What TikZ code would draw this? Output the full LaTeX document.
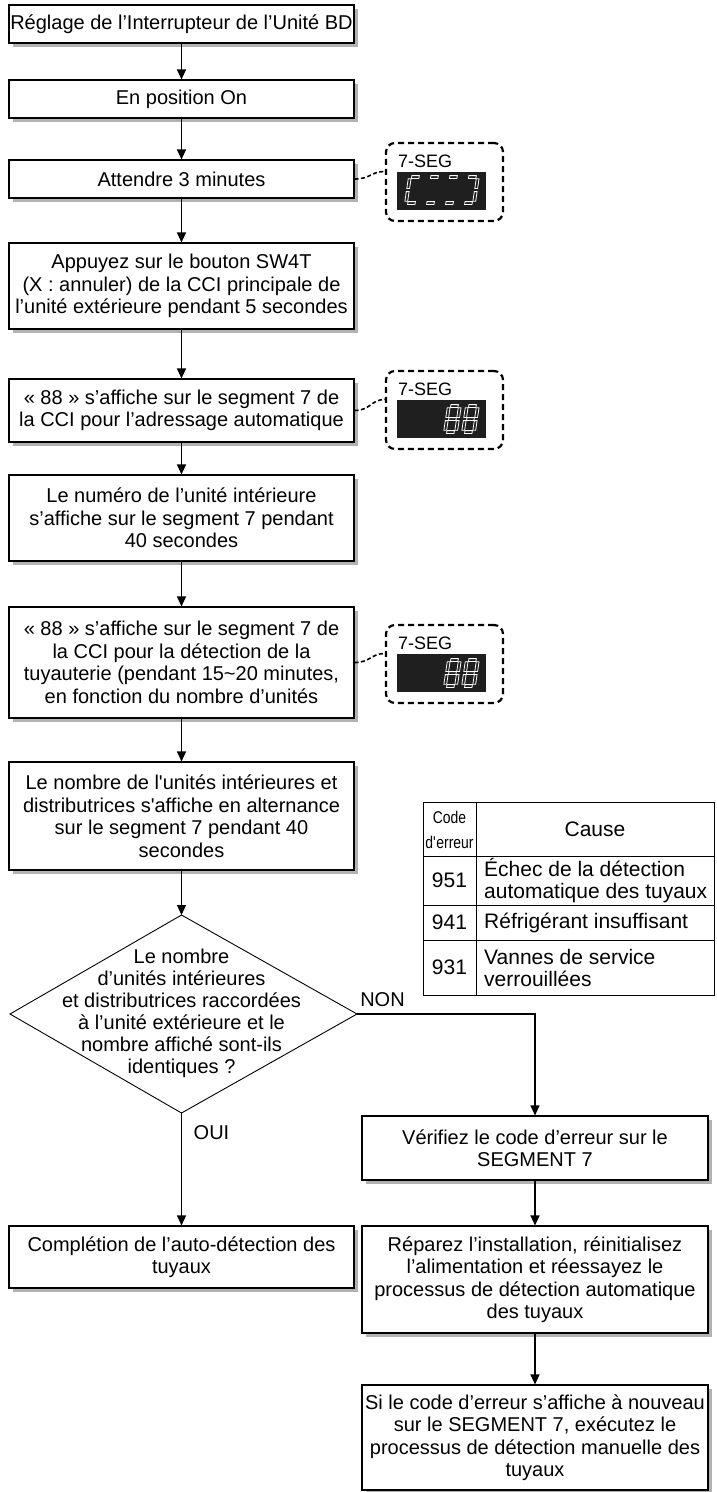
\documentclass[tikz,border=0pt]{standalone}
\usepackage{fontspec}
\setmainfont{Liberation Sans}
\newfontfamily\narrowfont[FakeStretch=0.82]{Liberation Sans}
\usetikzlibrary{arrows.meta,shadows}

\tikzset{
  box/.style={draw, line width=1.1pt, fill=white, minimum width=345pt, inner sep=0pt,
    align=center, font=\fontsize{20}{22.5}\selectfont,
    drop shadow={shadow xshift=3.5pt, shadow yshift=-3.5pt, fill=black!30, opacity=1}},
  arr/.style={-{Triangle[length=10pt,width=9pt]}, line width=1.1pt},
  segbox/.style={draw, line width=2.2pt, dash pattern=on 6pt off 4pt, rounded corners=9pt,
    minimum width=117pt, minimum height=78pt, inner sep=0pt},
  segwire/.style={line width=1.6pt, dash pattern=on 4pt off 2.5pt},
  segscreen/.style={fill=black!88, minimum width=89pt, minimum height=38pt, inner sep=0pt},
  seglabel/.style={anchor=base west, inner sep=0pt, font=\fontsize{18}{18}\selectfont},
  segline/.style={draw=white, line width=0.8pt},
  tabtxt/.style={inner sep=0pt, font=\fontsize{21}{22}\selectfont},
}

% one digit of the 7-segment screen
\newcommand{\segdigit}[3]{%
  \begin{scope}[shift={(#1,#2)},xslant=0.15]
    \foreach \s in {#3}{%
      \if a\s \draw[segline] (1.8,-24.6) rectangle (9.2,-27.4);\fi
      \if b\s \draw[segline] (9.6,-14.6) rectangle (12.4,-24.2);\fi
      \if c\s \draw[segline] (9.6,-1.8) rectangle (12.4,-11.4);\fi
      \if d\s \draw[segline] (1.8,1.4) rectangle (9.2,-1.4);\fi
      \if e\s \draw[segline] (-1.4,-1.8) rectangle (1.4,-11.4);\fi
      \if f\s \draw[segline] (-1.4,-14.6) rectangle (1.4,-24.2);\fi
      \if g\s \draw[segline] (1.8,-11.6) rectangle (9.2,-14.4);\fi
    }
  \end{scope}}

\begin{document}
\begin{tikzpicture}[x=1pt,y=-1pt]
    \useasboundingbox (0,0) rectangle (716,1492);

    % Main column
    \node[box, minimum height=38pt] (reglage) at (181.5,24) {Réglage de l’Interrupteur de l’Unité BD};
    \node[box, minimum height=38pt] (poson) at (181.5,99) {En position On};
    \node[box, minimum height=38pt] (attendre) at (181.5,179) {Attendre 3 minutes};
    \node[box, minimum height=86pt] (bouton) at (181.5,286) {Appuyez sur le bouton SW4T\\(X : annuler) de la CCI principale de\\l’unité extérieure pendant 5 secondes};
    \node[box, minimum height=63pt] (adress) at (181.5,410.5) {« 88 » s’affiche sur le segment 7 de\\la CCI pour l’adressage automatique};
    \node[box, minimum height=86pt] (numero) at (181.5,518) {Le numéro de l’unité intérieure\\s’affiche sur le segment 7 pendant\\40 secondes};
    \node[box, minimum height=111pt] (detect) at (181.5,662.5) {« 88 » s’affiche sur le segment 7 de\\la CCI pour la détection de la\\tuyauterie (pendant 15\textasciitilde 20 minutes,\\en fonction du nombre d’unités};
    \node[box, minimum height=108pt] (nombre) at (181.5,816) {Le nombre de l\textquotesingle unités intérieures et\\distributrices s\textquotesingle affiche en alternance\\sur le segment 7 pendant 40\\secondes};

    % Decision
    \coordinate (qtop) at (181.5,915);
    \coordinate (qright) at (357,1014);
    \coordinate (qbot) at (181.5,1113);
    \coordinate (qleft) at (10,1014);
    \draw[line width=0.9pt] (qtop) -- (qright) -- (qbot) -- (qleft) -- cycle;
    \node[align=center, inner sep=0pt, font=\fontsize{20}{22}\selectfont] (question) at (181.5,1013) {Le nombre\\d’unités intérieures\\et distributrices raccordées\\à l’unité extérieure et le\\nombre affiché sont-ils\\identiques ?};
    \node[inner sep=0pt, font=\fontsize{20}{22}\selectfont] (non) at (382.5,1000) {NON};
    \node[inner sep=0pt, font=\fontsize{20}{22}\selectfont] (oui) at (211.5,1133) {OUI};

    % End boxes
    \node[box, minimum height=62pt] (complet) at (181.5,1257) {Complétion de l’auto-détection des\\tuyaux};
    \node[box, minimum width=346pt, minimum height=64pt] (verif) at (535,1148) {Vérifiez le code d’erreur sur le\\SEGMENT 7};
    \node[box, minimum width=346pt, minimum height=107pt] (repar) at (535,1279.5) {Réparez l’installation, réinitialisez\\l’alimentation et réessayez le\\processus de détection automatique\\des tuyaux};
    \node[box, minimum width=346pt, minimum height=105pt] (manuel) at (535,1437.5) {Si le code d’erreur s’affiche à nouveau\\sur le SEGMENT 7, exécutez le\\processus de détection manuelle des\\tuyaux};

    % Arrows
    \foreach \a/\b in {reglage/poson, poson/attendre, attendre/bouton, bouton/adress,
                       adress/numero, numero/detect, detect/nombre, verif/repar, repar/manuel}
        \draw[arr] (\a) -- (\b);
    \draw[arr] (nombre) -- (qtop);
    \draw[arr] (qright) -| (verif);
    \draw[arr] (qbot) -- (complet);

    % 7-SEG screens
    \node[segbox] (seg1) at (444.5,182) {};
    \node[seglabel] (seg1lbl) at (398,167) {7-SEG};
    \node[segscreen] (scr1) at (441.5,191) {};
    \segdigit{406}{203}{a,d,e,f}
    \segdigit{425}{203}{a,d}
    \segdigit{444}{203}{a,d}
    \segdigit{463}{203}{a,b,c,d}
    \draw[segwire] (attendre.east) .. controls +(16,0) and +(-14,0) .. (seg1.170);

    \node[segbox] (seg2) at (444.5,410) {};
    \node[seglabel] (seg2lbl) at (398,395) {7-SEG};
    \node[segscreen] (scr2) at (441.5,419) {};
    \segdigit{445}{432}{a,b,c,d,e,f,g}
    \segdigit{463}{432}{a,b,c,d,e,f,g}
    \draw[segwire] (adress.east) .. controls +(16,0) and +(-14,0) .. (seg2.170);

    \node[segbox] (seg3) at (444.5,664) {};
    \node[seglabel] (seg3lbl) at (398,649) {7-SEG};
    \node[segscreen] (scr3) at (441.5,673) {};
    \segdigit{445}{686}{a,b,c,d,e,f,g}
    \segdigit{463}{686}{a,b,c,d,e,f,g}
    \draw[segwire] (detect.east) .. controls +(16,0) and +(-14,0) .. (seg3.170);

    % Error code table
    \draw[line width=1pt] (423,802) rectangle (714,995);
    \draw[line width=1pt] (476,802) -- (476,995);
    \foreach \y in {856,905,940}
        \draw[line width=1pt] (423,\y) -- (714,\y);
    \node[align=center, inner sep=0pt, font=\narrowfont\fontsize{17}{25}\selectfont] (codehd) at (449.5,830) {Code\\d\textquotesingle erreur};
    \node[tabtxt] (causehd) at (595,829) {Cause};
    \node[tabtxt] (c951) at (449.5,880.5) {951};
    \node[tabtxt, anchor=west, align=left] (t951) at (484,880.5) {Échec de la détection\\automatique des tuyaux};
    \node[tabtxt] (c941) at (449.5,922.5) {941};
    \node[tabtxt, anchor=west] (t941) at (484,922.5) {Réfrigérant insuffisant};
    \node[tabtxt] (c931) at (449.5,967.5) {931};
    \node[tabtxt, anchor=west, align=left] (t931) at (484,967.5) {Vannes de service\\verrouillées};
\end{tikzpicture}
\end{document}
